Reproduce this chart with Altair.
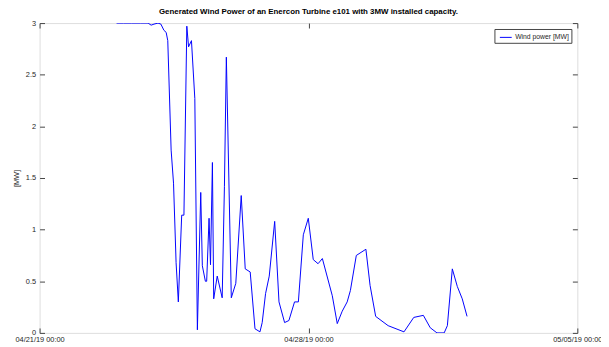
import altair as alt
import pandas as pd

# ---- data ----
hours_from_start = [
    48.1, 52.4, 57.3, 62.9, 67.8, 69.7, 71.5, 74.0, 75.8, 77.7,
    79.1, 80.1, 82.2, 83.7, 85.3, 86.7, 88.8, 90.2, 92.0, 93.1,
    94.9, 97.0, 98.6, 100.7, 101.7, 103.6, 104.4, 105.9, 106.8, 108.0,
    108.8, 111.0, 114.1, 115.5, 116.7, 119.8, 122.6, 126.0, 128.5, 131.6,
    134.6, 137.7, 139.1, 141.2, 143.5, 146.9, 149.6, 153.1, 155.8, 159.3,
    161.7, 164.8, 167.9, 171.0, 174.0, 176.7, 182.9, 186.0, 189.1, 192.2,
    194.2, 197.9, 203.9, 206.5, 210.0, 217.8, 227.7, 233.8, 239.8, 244.1,
    248.3, 252.8, 254.8, 257.9, 261.0, 264.1, 267.1,
]
power_mw = [
    3.00, 3.00, 3.00, 3.00, 3.00, 2.98, 2.99, 3.00, 2.99, 2.93,
    2.91, 2.83, 1.77, 1.45, 0.68, 0.30, 1.14, 1.14, 2.97, 2.77,
    2.83, 2.27, 0.03, 1.36, 0.65, 0.50, 0.50, 1.11, 0.66, 1.65,
    0.33, 0.55, 0.34, 1.42, 2.67, 0.34, 0.48, 1.33, 0.62, 0.59,
    0.04, 0.01, 0.10, 0.38, 0.55, 1.08, 0.30, 0.10, 0.12, 0.30,
    0.30, 0.95, 1.11, 0.71, 0.67, 0.72, 0.36, 0.09, 0.21, 0.30,
    0.41, 0.75, 0.81, 0.46, 0.16, 0.07, 0.01, 0.15, 0.17, 0.05,
    0.00, 0.00, 0.07, 0.62, 0.45, 0.33, 0.16,
]
series_name = "Wind power [MW]"
start_date = "2019-04-21 00:00"
x_tick_dates = [(2019, 4, 21), (2019, 4, 28), (2019, 5, 5)]
y_tick_values = [0, 0.5, 1, 1.5, 2, 2.5, 3]
y_title = "[MW]"
chart_title = "Generated Wind Power of an Enercon Turbine e101 with 3MW installed capacity."

base_time = pd.Timestamp(start_date)
times = [
    (base_time + pd.to_timedelta(h, unit="h")).round("min").strftime("%Y-%m-%dT%H:%M:%S")
    for h in hours_from_start
]
df = pd.DataFrame({"time": times, "power": power_mw, "series": series_name})

# ---- layout / style ----
W, H = 545, 314
FONT = "Liberation Sans"
TXT = "#262626"
TICK = "#444444"

tick_vals = [alt.DateTime(year=y, month=m, date=d) for (y, m, d) in x_tick_dates]
xscale = alt.Scale(domain=[tick_vals[0], tick_vals[-1]])
yscale = alt.Scale(domain=[0, 3], nice=False, zero=False)

line = alt.Chart(df).mark_line(strokeWidth=1, clip=True).encode(
    x=alt.X(
        "time:T", scale=xscale,
        axis=alt.Axis(orient="bottom", values=tick_vals, format="%m/%d/%y %H:%M",
                      ticks=False, domain=False, grid=False, labelPadding=3,
                      labelFlush=False, labelOverlap=False, labelAngle=0,
                      labelFont=FONT, labelFontSize=7.5, labelColor=TXT, title=None),
    ),
    y=alt.Y(
        "power:Q", scale=yscale,
        axis=alt.Axis(orient="left", values=y_tick_values, format="~g",
                      ticks=False, domain=False, grid=False, labelPadding=4,
                      labelFont=FONT, labelFontSize=7.5, labelColor=TXT,
                      title=y_title, titleFont=FONT, titleFontSize=7.5,
                      titleFontWeight="normal", titleColor=TXT, titlePadding=5),
    ),
    color=alt.Color(
        "series:N",
        scale=alt.Scale(domain=[series_name], range=["#0000ff"]),
        legend=alt.Legend(title=None, orient="top-right", offset=6, padding=2,
                          strokeColor="#444444", fillColor="white", cornerRadius=0,
                          symbolType="stroke", symbolSize=144, symbolStrokeWidth=1,
                          symbolOffset=3, labelOffset=3, labelFont=FONT,
                          labelFontSize=6.9, labelColor=TXT),
    ),
)

# inward ticks on bottom and left edges
ticks_bl = alt.Chart(df).mark_line(opacity=0).encode(
    x=alt.X("time:T", scale=xscale,
            axis=alt.Axis(orient="top", offset=-H, values=tick_vals, labels=False,
                          domain=False, grid=False, ticks=True, tickSize=5,
                          tickColor=TICK, title=None)),
    y=alt.Y("power:Q", scale=yscale,
            axis=alt.Axis(orient="right", offset=-W, values=y_tick_values, labels=False,
                          domain=False, grid=False, ticks=True, tickSize=5,
                          tickColor=TICK, title=None)),
)

# inward ticks on top and right edges
ticks_tr = alt.Chart(df).mark_line(opacity=0).encode(
    x=alt.X("time:T", scale=xscale,
            axis=alt.Axis(orient="bottom", offset=-H, values=tick_vals, labels=False,
                          domain=False, grid=False, ticks=True, tickSize=5,
                          tickColor=TICK, title=None)),
    y=alt.Y("power:Q", scale=yscale,
            axis=alt.Axis(orient="left", offset=-W, values=y_tick_values, labels=False,
                          domain=False, grid=False, ticks=True, tickSize=5,
                          tickColor=TICK, title=None)),
)

chart = (
    alt.layer(line, ticks_bl, ticks_tr)
    .resolve_axis(x="independent", y="independent")
    .properties(
        width=W, height=H,
        autosize=alt.AutoSizeParams(type="none"),
        padding={"left": 32, "top": 13, "right": 24, "bottom": 12},
        title=alt.TitleParams(chart_title, font=FONT, fontSize=8, fontWeight="bold",
                              color="black", anchor="middle", frame="group",
                              offset=3),
    )
    .configure_view(stroke=TICK, strokeWidth=1)
    .configure(background="white")
)

chart.save("out.html", embed_options={"renderer": "svg", "actions": False})
